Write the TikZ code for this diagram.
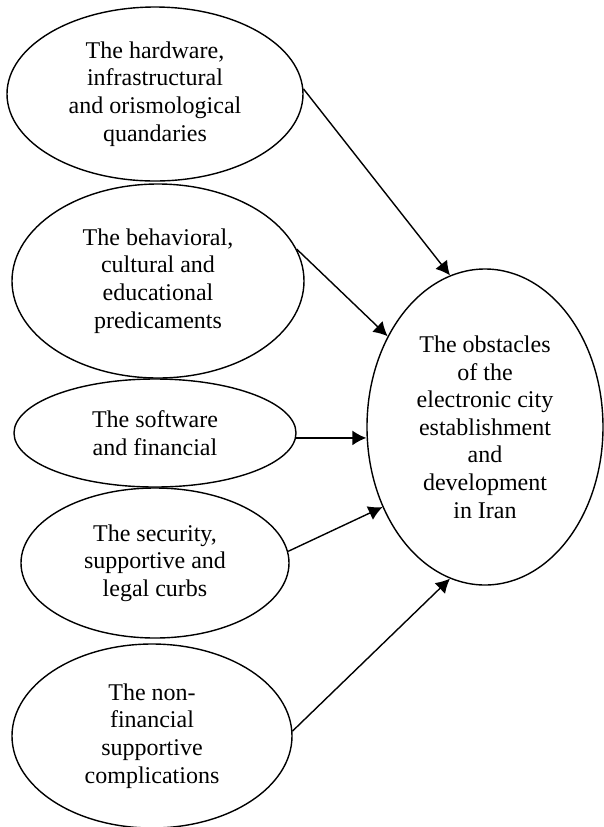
\documentclass[tikz,border=0pt]{standalone}
\usepackage{fontspec}
\setmainfont{Liberation Serif}
\usetikzlibrary{shapes.geometric,arrows.meta}
\begin{document}
\begin{tikzpicture}[x=0.5pt,y=-0.5pt]
%%%%%%%%%%%%%%%%%%%%%%%%%%%%%%%%%%%%%%%%%%%%%%%%%%%%%%%%
% STYLE
\tikzstyle{obst}=[ellipse,draw,line width=0.7pt,inner sep=0pt,align=center,font=\fontsize{12}{13.8}\selectfont]
\tikzstyle{link}=[line width=0.7pt,-{Latex[length=7pt,width=7.5pt]}]

\useasboundingbox (0,0) rectangle (604,827);
%%%%%%%%%%%%%%%%%%%%%%%%%%%%%%%%%%%%%%%%%%%%%%%%%%%%%%%%
% NODES
\node[obst,minimum width=148pt,minimum height=87pt] (O1) at (155,94) {The hardware,\\infrastructural\\and orismological\\quandaries};
\node[obst,minimum width=146pt,minimum height=97pt] (O2) at (158,281) {The behavioral,\\cultural and\\educational\\predicaments};
\node[obst,minimum width=141pt,minimum height=54pt] (O3) at (155,433) {The software\\and financial};
\node[obst,minimum width=134pt,minimum height=75pt] (O4) at (155,563) {The security,\\supportive and\\legal curbs};
\node[obst,minimum width=140pt,minimum height=92pt] (O5) at (152,736) {The non-\\financial\\supportive\\complications};

\node[obst,minimum width=118pt,minimum height=158pt] (C) at (485,427) {The obstacles\\of the\\electronic city\\establishment\\and\\development\\in Iran};
%%%%%%%%%%%%%%%%%%%%%%%%%%%%%%%%%%%%%%%%%%%%%%%%%%%%%%%%
% LINKS
\draw[link] (O1.2) -- (C.103);
\draw[link] (O2.13) -- (C.137);
\draw[link] (O3.-2) -- (O3.-2 -| C.west);
\draw[link] (O4.5) -- (C.218);
\draw[link] (O5.2) -- (C.257);

\end{tikzpicture}
\end{document}
